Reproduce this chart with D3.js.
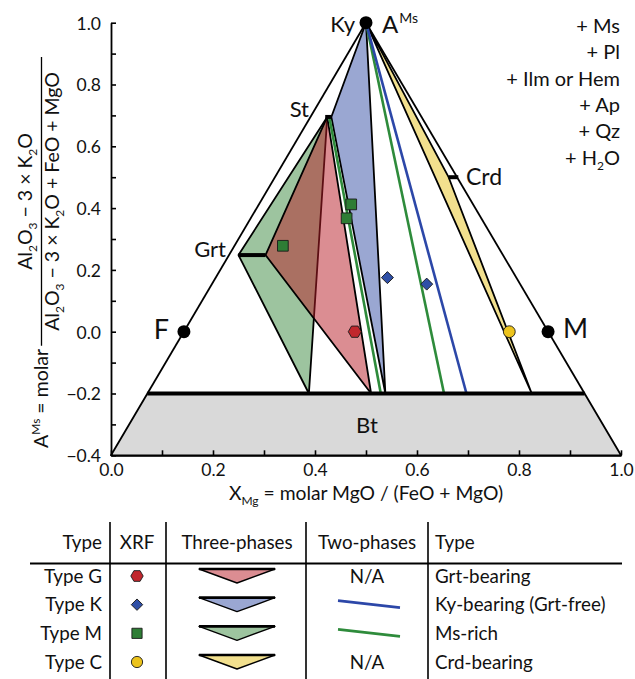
<!DOCTYPE html>
<html>
<head>
<meta charset="utf-8">
<script src="https://cdn.jsdelivr.net/npm/d3@7"></script>
<style>
  body { margin: 0; background: #fff; }
  svg text { font-family: Lato, "Open Sans", sans-serif; fill: #111; }
</style>
</head>
<body>
<svg id="chart" width="635" height="679"></svg>
<script>
// ---- AFM-style projection: XMg (x) vs AMs (y) ----
const xTicks = [0, 0.1, 0.2, 0.3, 0.4, 0.5, 0.6, 0.7, 0.8, 0.9, 1.0];
const xTickLabels = ["0.0", "", "0.2", "", "0.4", "", "0.6", "", "0.8", "", "1.0"];
const yTicks = [-0.4, -0.3, -0.2, -0.1, 0, 0.1, 0.2, 0.3, 0.4, 0.5, 0.6, 0.7, 0.8, 0.9, 1.0];
const yTickLabels = ["\u22120.4", "", "\u22120.2", "", "0.0", "", "0.2", "", "0.4", "", "0.6", "", "0.8", "", "1.0"];

// projection outline and biotite field
const apex = [0.5, 1.0];
const outlineLeft = [[0.5, 1.0], [0.0714, -0.2]];
const outlineRight = [[0.5, 1.0], [0.9286, -0.2]];
const btField = [[0.0, -0.4], [1.0, -0.4], [0.9286, -0.2], [0.0714, -0.2]];
const btLine = [[0.0714, -0.2], [0.9286, -0.2]];

// end-members and phase compositions
const endMembers = [
  { name: "F", x: 0.143, y: 0.0 },
  { name: "M", x: 0.857, y: 0.0 }
];
const stPhase = [[0.420, 0.695], [0.432, 0.695]];
const grtPhase = [[0.250, 0.248], [0.303, 0.248]];
const crdPhase = [[0.662, 0.500], [0.681, 0.500]];

// three-phase fields
const fieldM = [[0.250, 0.248], [0.424, 0.695], [0.388, -0.2]];
const fieldG = [[0.303, 0.248], [0.424, 0.695], [0.510, -0.2]];
const fieldK = [[0.5, 1.0], [0.432, 0.695], [0.538, -0.2]];
const fieldC = [[0.5, 1.0], [0.662, 0.500], [0.825, -0.2]];

// two-phase tie lines
const tieK = [[[0.5, 1.0], [0.697, -0.2]]];
const tieM = [[[0.5, 1.0], [0.653, -0.2]], [[0.428, 0.695], [0.529, -0.2]]];

// bulk compositions from XRF
const xrfG = [[0.478, 0.000]];
const xrfK = [[0.542, 0.175], [0.619, 0.154]];
const xrfM = [[0.337, 0.278], [0.471, 0.412], [0.462, 0.367]];
const xrfC = [[0.781, 0.000]];

// legend
const legendTypes = ["Type G", "Type K", "Type M", "Type C"];
const legendNames = ["Grt-bearing", "Ky-bearing (Grt-free)", "Ms-rich", "Crd-bearing"];
const legendTwoPhase = ["N/A", "line", "line", "N/A"];
const legendHeaders = ["Type", "XRF", "Three-phases", "Two-phases", "Type"];

const assemblage = ["+ Ms", "+ Pl", "+ Ilm or Hem", "+ Ap", "+ Qz", "+ H|2|O"];

const styles = {
  "Type G": { fill: "#b81c25", line: null, marker: "hex", mfill: "#c1272d" },
  "Type K": { fill: "#3550a5", line: "#2c47a8", marker: "diamond", mfill: "#2f4fa6" },
  "Type M": { fill: "#3b8a40", line: "#2e8b3b", marker: "square", mfill: "#2e7d35" },
  "Type C": { fill: "#e5c21e", line: null, marker: "circle", mfill: "#ecc31c" }
};

const svg = d3.select("#chart");
const x = d3.scaleLinear().domain([0, 1]).range([111, 621]);
const y = d3.scaleLinear().domain([-0.4, 1.0]).range([455.3, 22.7]);
const line = d3.line().x(d => x(d[0])).y(d => y(d[1]));
const closed = pts => line(pts) + "Z";

const plot = svg.append("g");

// biotite field
plot.append("path").attr("d", closed(btField))
  .attr("fill", "#d9d9d9").attr("stroke", "#000").attr("stroke-width", 1.8)
  .attr("stroke-linejoin", "round");

// outline edges
[outlineLeft, outlineRight].forEach(seg => {
  plot.append("path").attr("d", line(seg)).attr("fill", "none")
    .attr("stroke", "#000").attr("stroke-width", 1.8);
});

// three-phase fields (semi-transparent so overlaps show through)
function field(pts, color) {
  plot.append("path").attr("d", closed(pts))
    .attr("fill", color).attr("fill-opacity", 0.5)
    .attr("stroke", "#000").attr("stroke-width", 1.8).attr("stroke-linejoin", "round");
}
field(fieldM, styles["Type M"].fill);
field(fieldG, styles["Type G"].fill);
field(fieldK, styles["Type K"].fill);
field(fieldC, styles["Type C"].fill);

// two-phase tie lines
tieM.forEach(seg => plot.append("path").attr("d", line(seg)).attr("fill", "none")
  .attr("stroke", styles["Type M"].line).attr("stroke-width", 2.6));
tieK.forEach(seg => plot.append("path").attr("d", line(seg)).attr("fill", "none")
  .attr("stroke", styles["Type K"].line).attr("stroke-width", 2.6));

// Bt line and phase compositions
[btLine, stPhase, grtPhase, crdPhase].forEach(seg => {
  plot.append("path").attr("d", line(seg)).attr("fill", "none")
    .attr("stroke", "#000").attr("stroke-width", 4);
});

// axes
const xAxis = d3.axisBottom(x).tickValues(xTicks).tickSize(-5).tickSizeOuter(0).tickPadding(8)
  .tickFormat((d, i) => xTickLabels[i]);
const yAxis = d3.axisLeft(y).tickValues(yTicks).tickSize(-5).tickSizeOuter(0).tickPadding(10)
  .tickFormat((d, i) => yTickLabels[i]);
const gx = svg.append("g").attr("transform", `translate(0,${y(-0.4)})`).call(xAxis);
const gy = svg.append("g").attr("transform", `translate(${x(0)},0)`).call(yAxis);
[gx, gy].forEach(g => {
  g.attr("font-family", null).attr("font-size", null);
  g.selectAll("text").attr("font-size", 17.5).attr("fill", "#111");
  g.selectAll("line").attr("stroke", "#000").attr("stroke-width", 1.6);
  g.select(".domain").attr("stroke", "#000").attr("stroke-width", 1.8);
});
gy.selectAll("text").attr("dy", "0.36em");

// markers
function hexPath(r) {
  const pts = d3.range(6).map(i => [r * Math.cos(i * Math.PI / 3), r * Math.sin(i * Math.PI / 3)]);
  return "M" + pts.map(p => p.join(",")).join("L") + "Z";
}
function marker(g, kind, cx, cy, color, scale = 1) {
  let d;
  if (kind === "hex") d = hexPath(6.5 * scale);
  else if (kind === "diamond") d = d3.symbol(d3.symbolSquare, 72 * scale * scale)();
  else if (kind === "square") d = d3.symbol(d3.symbolSquare, 115 * scale * scale)();
  else d = d3.symbol(d3.symbolCircle, 110 * scale * scale)();
  const rot = kind === "diamond" ? " rotate(45)" : "";
  g.append("path").attr("d", d)
    .attr("transform", `translate(${cx},${cy})${rot}`)
    .attr("fill", color).attr("stroke", "#1a1a1a").attr("stroke-width", 0.9);
}

// apex and end-member points
plot.append("circle").attr("cx", x(apex[0])).attr("cy", y(apex[1])).attr("r", 6.5).attr("fill", "#000");
endMembers.forEach(d => {
  plot.append("circle").attr("cx", x(d.x)).attr("cy", y(d.y)).attr("r", 6.5).attr("fill", "#000");
});

const xrfSets = [["Type G", xrfG], ["Type K", xrfK], ["Type M", xrfM], ["Type C", xrfC]];
xrfSets.forEach(([t, pts]) => {
  pts.forEach(d => marker(plot, styles[t].marker, x(d[0]), y(d[1]), styles[t].mfill));
});

// phase labels
function label(txt, px, py, size, anchor = "start") {
  return svg.append("text").attr("x", px).attr("y", py).attr("font-size", size)
    .attr("text-anchor", anchor).text(txt);
}
label("Ky", 355, 32, 22, "end");
const aLab = svg.append("text").attr("x", 382).attr("y", 33).attr("font-size", 24);
aLab.append("tspan").text("A");
aLab.append("tspan").attr("font-size", 14).attr("dy", -10).attr("dx", 1).text("Ms");
label("St", 309, 117, 22, "end");
label("Grt", 226, 257, 22, "end");
label("Crd", 466, 185, 23, "start");
label("Bt", 367, 433, 22, "middle");
label("F", 169, 339, 27, "end");
label("M", 563, 338, 27, "start");

// mineral assemblage note
function richText(el, spec, subSize, shift = 4) {
  const parts = spec.split("|");
  parts.forEach((p, i) => {
    const sub = i % 2 === 1;
    const t = el.append("tspan").text(p);
    if (sub) t.attr("font-size", subSize).attr("dy", shift);
    else if (i > 0) t.attr("dy", -shift);
  });
  return el;
}
assemblage.forEach((s, i) => {
  const t = svg.append("text").attr("x", 620).attr("y", 33 + i * 26.3)
    .attr("font-size", 20).attr("text-anchor", "end");
  richText(t, s, 12, 5);
});

// x axis title
const xt = svg.append("text").attr("x", 366).attr("y", 500).attr("font-size", 19.3).attr("text-anchor", "middle");
richText(xt, "X|Mg| = molar MgO / (FeO + MgO)", 12, 5);

// y axis title (rotated; local x runs upward, local y runs right)
const yl = svg.append("g").attr("transform", "rotate(-90)");
const yA = yl.append("text").attr("x", -448).attr("y", 48).attr("font-size", 19.5);
yA.append("tspan").text("A");
yA.append("tspan").attr("font-size", 12).attr("dy", -8).text("Ms");
yA.append("tspan").attr("dy", 8).text(" = molar");
const yAEnd = -448 + yA.node().getComputedTextLength();
yl.append("line").attr("x1", yAEnd + 3).attr("x2", -57).attr("y1", 41.5).attr("y2", 41.5)
  .attr("stroke", "#000").attr("stroke-width", 1.3);
const fracMid = (yAEnd + 3 - 57) / 2;
richText(yl.append("text").attr("x", fracMid).attr("y", 32).attr("font-size", 19.5).attr("text-anchor", "middle"),
  "Al|2|O|3| \u2212 3 \u00d7 K|2|O", 12, 5);
richText(yl.append("text").attr("x", fracMid).attr("y", 59).attr("font-size", 19.5).attr("text-anchor", "middle"),
  "Al|2|O|3| \u2212 3 \u00d7 K|2|O + FeO + MgO", 12, 5);

// ---- legend table ----
const leg = svg.append("g");
const rowY = d3.scalePoint().domain(legendTypes).range([576, 662]);
const colX = { type: 102, xrf: 137, three: 237, two: 367, name: 435 };
const sepX = [110, 166, 306, 428];
sepX.forEach(sx => leg.append("line").attr("x1", sx).attr("x2", sx).attr("y1", 522).attr("y2", 679)
  .attr("stroke", "#000").attr("stroke-width", 1.6));
leg.append("line").attr("x1", 30).attr("x2", 622).attr("y1", 563.5).attr("y2", 563.5)
  .attr("stroke", "#000").attr("stroke-width", 2.2);

const fs = 18.8;
const headerX = [colX.type, colX.xrf, colX.three, colX.two, colX.name];
const headerAnchor = ["end", "middle", "middle", "middle", "start"];
legendHeaders.forEach((h, i) => {
  leg.append("text").attr("x", headerX[i]).attr("y", 549).attr("font-size", fs)
    .attr("text-anchor", headerAnchor[i]).text(h);
});

legendTypes.forEach((t, i) => {
  const cy = rowY(t);
  const st = styles[t];
  leg.append("text").attr("x", colX.type).attr("y", cy + 6.5).attr("font-size", fs)
    .attr("text-anchor", "end").text(t);
  marker(leg, st.marker, colX.xrf, cy, st.mfill, 0.95);
  // inverted triangle symbol for the three-phase field
  const tri = [[colX.three - 38, cy - 7], [colX.three + 38, cy - 7], [colX.three, cy + 7]];
  leg.append("path").attr("d", "M" + tri.map(p => p.join(",")).join("L") + "Z")
    .attr("fill", st.fill).attr("fill-opacity", 0.5)
    .attr("stroke", "#000").attr("stroke-width", 1.4).attr("stroke-linejoin", "round");
  leg.append("line").attr("x1", tri[0][0]).attr("x2", tri[1][0]).attr("y1", cy - 7).attr("y2", cy - 7)
    .attr("stroke", "#000").attr("stroke-width", 2.6);
  if (legendTwoPhase[i] === "N/A") {
    leg.append("text").attr("x", colX.two).attr("y", cy + 6.5).attr("font-size", fs)
      .attr("text-anchor", "middle").text("N/A");
  } else {
    leg.append("line").attr("x1", colX.two - 29).attr("x2", colX.two + 33)
      .attr("y1", cy - 4).attr("y2", cy + 3)
      .attr("stroke", st.line).attr("stroke-width", 2.6);
  }
  leg.append("text").attr("x", colX.name).attr("y", cy + 6.5).attr("font-size", fs)
    .attr("text-anchor", "start").text(legendNames[i]);
});
</script>
</body>
</html>
